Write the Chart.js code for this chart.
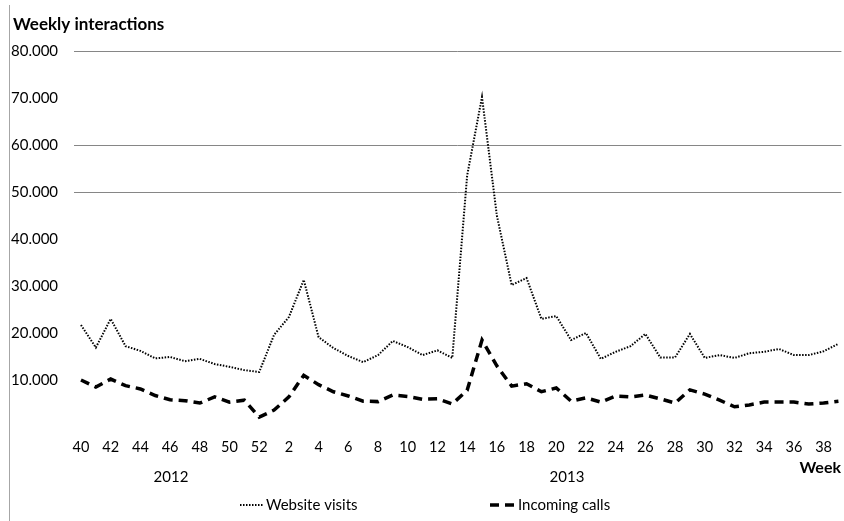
<!DOCTYPE html>
<html>
<head>
<meta charset="utf-8">
<script src="https://cdn.jsdelivr.net/npm/chart.js@4/dist/chart.umd.min.js"></script>
<style>
  html, body { margin: 0; padding: 0; background: #fff; }
  #wrap { width: 844px; height: 521px; }
</style>
</head>
<body>
<div id="wrap"><canvas id="chart"></canvas></div>
<script>
// week numbers: 40-52 of 2012, then 1-39 of 2013
const weeks = [40, 41, 42, 43, 44, 45, 46, 47, 48, 49, 50, 51, 52,
    1, 2, 3, 4, 5, 6, 7, 8, 9, 10, 11, 12, 13, 14, 15, 16, 17, 18, 19, 20,
    21, 22, 23, 24, 25, 26, 27, 28, 29, 30, 31, 32, 33, 34, 35, 36, 37, 38, 39];

const websiteVisits = [
    21700, 16900, 23000, 17200, 16200, 14600, 14900, 14000, 14500, 13400, 12800, 12100, 11700,
    19600, 23400, 31300, 19100, 16800, 15100, 13800, 15300, 18300, 17000, 15300, 16300, 14700,
    53500, 70200, 45000, 30200, 31700, 23000, 23600, 18500, 20000, 14500, 16000, 17200, 19800,
    14800, 14800, 19800, 14700, 15300, 14700, 15700, 16000, 16600, 15300, 15300, 16100, 17700
];

const incomingCalls = [
    10000, 8500, 10200, 8800, 8100, 6700, 5800, 5600, 5100, 6400, 5300, 5700, 2100,
    3600, 6400, 11000, 9000, 7500, 6600, 5500, 5400, 6800, 6500, 5900, 6000, 4900,
    7800, 18500, 13000, 8700, 9200, 7500, 8300, 5500, 6200, 5300, 6600, 6400, 6800,
    6000, 5100, 7900, 7000, 5700, 4300, 4700, 5300, 5300, 5300, 4900, 5100, 5500
];

const yTicks = [0, 10000, 20000, 30000, 40000, 50000, 60000, 70000, 80000];
const shownGridLines = [50000, 60000, 80000];
const years = ['2012', '2013'];

const FONT = 'Lato, "Open Sans", sans-serif';

// extra texts, legend and the frame line on the left
const decor = {
    id: 'decor',
    afterDraw(chart) {
        const ctx = chart.ctx;
        ctx.save();

        ctx.strokeStyle = '#a6a6a6';
        ctx.lineWidth = 1;
        ctx.beginPath();
        ctx.moveTo(9.5, 5);
        ctx.lineTo(9.5, 521);
        ctx.stroke();

        ctx.fillStyle = '#000';
        ctx.textBaseline = 'middle';
        ctx.font = 'bold 17px ' + FONT;
        ctx.textAlign = 'left';
        ctx.fillText('Weekly interactions', 13, 25);

        ctx.font = '15px ' + FONT;
        ctx.textAlign = 'center';
        ctx.fillText(years[0], 171, 477);
        ctx.fillText(years[1], 567, 477);

        ctx.font = 'bold 16px ' + FONT;
        ctx.textAlign = 'right';
        ctx.fillText('Week', 841, 468);

        // legend
        ctx.font = '15px ' + FONT;
        ctx.textAlign = 'left';
        ctx.strokeStyle = '#000';
        ctx.lineWidth = 2;
        ctx.setLineDash([1.5, 1.5]);
        ctx.beginPath();
        ctx.moveTo(240, 505);
        ctx.lineTo(263, 505);
        ctx.stroke();
        ctx.fillText(chart.data.datasets[0].label, 266, 505);

        ctx.lineWidth = 3.5;
        ctx.setLineDash([9, 6]);
        ctx.beginPath();
        ctx.moveTo(490, 505);
        ctx.lineTo(515, 505);
        ctx.stroke();
        ctx.setLineDash([]);
        ctx.fillText(chart.data.datasets[1].label, 518, 505);

        ctx.restore();
    }
};

new Chart(document.getElementById('chart'), {
    type: 'line',
    data: {
        datasets: [
            {
                label: 'Website visits',
                data: websiteVisits.map((v, i) => ({ x: i, y: v })),
                borderColor: '#000',
                borderWidth: 2,
                borderDash: [1.5, 1.5],
                pointRadius: 0,
                tension: 0,
                fill: false
            },
            {
                label: 'Incoming calls',
                data: incomingCalls.map((v, i) => ({ x: i, y: v })),
                borderColor: '#000',
                borderWidth: 3.5,
                borderDash: [9, 6],
                pointRadius: 0,
                tension: 0,
                fill: false
            }
        ]
    },
    options: {
        responsive: true,
        maintainAspectRatio: false,
        animation: false,
        events: [],
        layout: {
            padding: { left: 11, right: 0, top: 51, bottom: 64 }
        },
        plugins: {
            legend: { display: false },
            title: { display: false },
            tooltip: { enabled: false }
        },
        scales: {
            x: {
                type: 'linear',
                min: -0.47,
                max: 51.2,
                grid: { display: false, drawTicks: false },
                border: { display: false },
                afterBuildTicks: (axis) => {
                    axis.ticks = weeks.map((w, i) => ({ value: i })).filter(t => t.value % 2 === 0);
                },
                afterFit: (axis) => { axis.height = 30; },
                ticks: {
                    autoSkip: false,
                    maxRotation: 0,
                    padding: 12,
                    color: '#000',
                    font: { family: FONT, size: 14.5 },
                    callback: (value) => String(weeks[value])
                }
            },
            y: {
                min: 0,
                max: 80000,
                afterBuildTicks: (axis) => {
                    axis.ticks = yTicks.map(v => ({ value: v }));
                },
                afterFit: (axis) => { axis.width = 63; },
                grid: {
                    drawTicks: false,
                    lineWidth: 1,
                    color: (c) => shownGridLines.includes(c.tick && c.tick.value) ? '#868686' : 'rgba(0,0,0,0)'
                },
                border: { display: false },
                ticks: {
                    crossAlign: 'far',
                    color: '#000',
                    font: { family: FONT, size: 15 },
                    callback: (value) => value === 0 ? '' : (value / 1000) + '.000'
                }
            }
        }
    },
    plugins: [decor]
});
</script>
</body>
</html>
